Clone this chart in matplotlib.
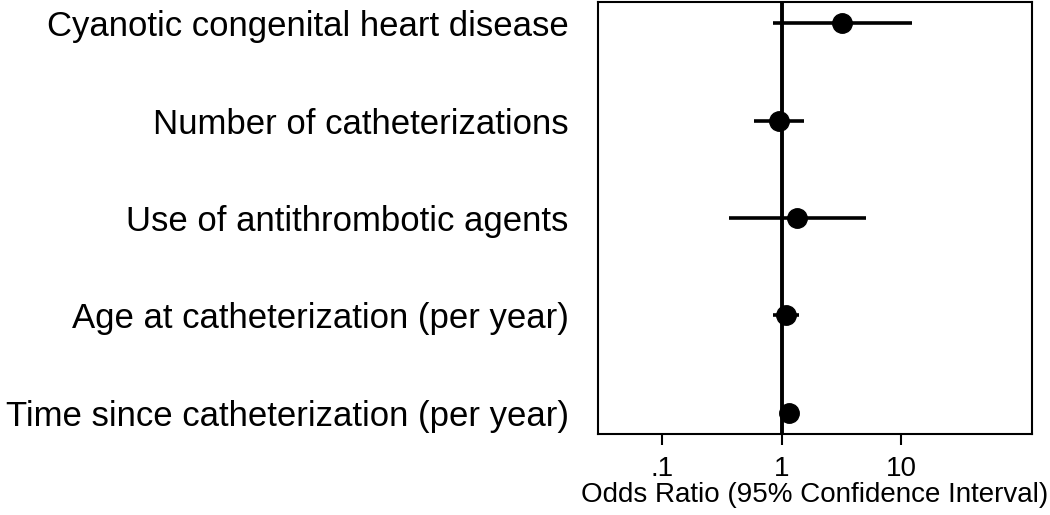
import matplotlib
matplotlib.use('Agg')
from matplotlib import pyplot as plt

labels = ['Cyanotic congenital heart disease',
          'Number of catheterizations',
          'Use of antithrombotic agents',
          'Age at catheterization (per year)',
          'Time since catheterization (per year)']
odds_ratio = [3.2, 0.95, 1.34, 1.08, 1.15]
ci_low = [0.84, 0.59, 0.36, 0.84, 1.06]
ci_high = [12.2, 1.53, 5.04, 1.40, 1.25]

plt.rcParams['font.family'] = ['Liberation Sans', 'DejaVu Sans']

fig = plt.figure(figsize=(10.5, 5.15), dpi=100)
ax = fig.add_axes([0.5695, 0.157, 0.4135, 0.839])

rows = list(range(1, len(labels) + 1))
ax.axvline(1, color='black', lw=2.8, zorder=1)
ax.hlines(rows, ci_low, ci_high, color='black', lw=2.6, zorder=2)
ax.plot(odds_ratio, rows, 'o', color='black', ms=14, zorder=3)

ax.set_xscale('log')
ax.set_xlim(0.029, 124)
ax.set_ylim(5.22, 0.78)
ax.set_xticks([0.1, 1, 10])
ax.set_xticklabels(['.1', '1', '10'])
ax.minorticks_off()
ax.set_yticks(rows)
ax.set_yticklabels(labels, fontsize=25)
ax.tick_params(axis='y', length=0, pad=21)
ax.tick_params(axis='x', labelsize=20, length=8, width=1.5, pad=8)
ax.set_xlabel('Odds Ratio (95% Confidence Interval)', fontsize=20, labelpad=0)
for sp in ax.spines.values():
    sp.set_linewidth(1.5)

fig.savefig('out.png', dpi=100)
